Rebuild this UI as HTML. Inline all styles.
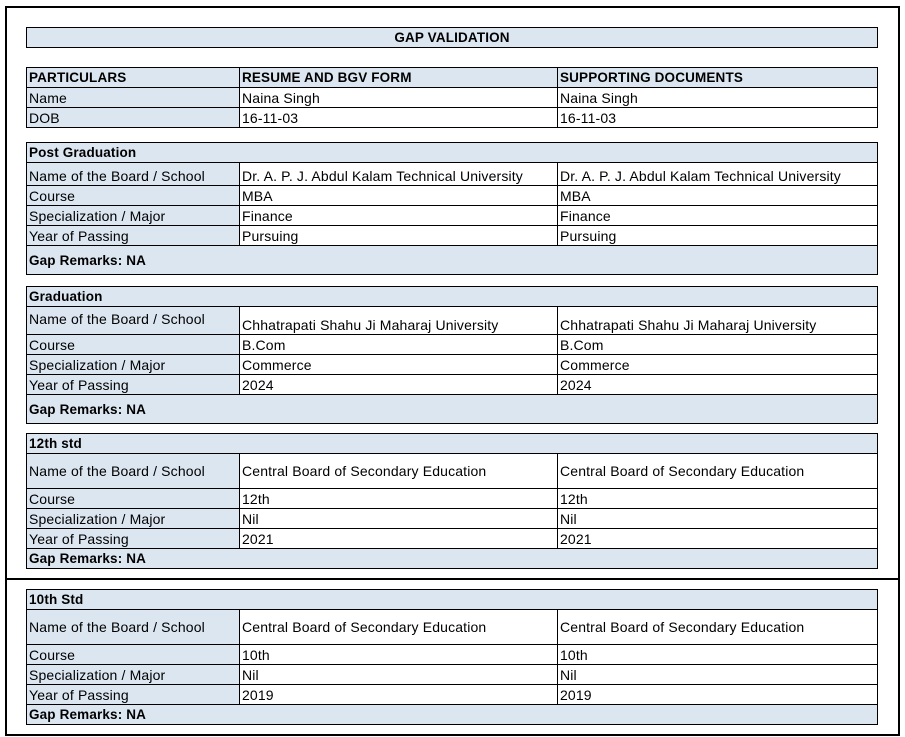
<!DOCTYPE html>
<html><head><style>
body{margin:0;width:905px;height:737px;background:#fff;position:relative;overflow:hidden;font-family:"Liberation Sans",sans-serif;font-size:14px;letter-spacing:0.15px;color:#000}
.b{position:absolute;border:2px solid #000;box-sizing:border-box}
.r{position:absolute;left:26px;width:852px;border:1px solid #000;box-sizing:border-box;display:flex;background:#dce6f1}
.r div{box-sizing:border-box;padding:0 2px;display:flex;align-items:center;white-space:nowrap;overflow:hidden}
.c1{width:212px;background:#dce6f1}
.c2{width:318px;border-left:1px solid #000;background:#fff}
.c3{flex:1;border-left:1px solid #000;background:#fff}
.h .c2,.h .c3{background:#dce6f1}
.bo{font-weight:bold;font-size:13.5px}
.low div{align-items:flex-end;padding-bottom:1px}
</style></head><body>
<div class="b" style="left:5px;top:6px;width:895px;height:574px"></div>
<div class="b" style="left:5px;top:578px;width:895px;height:158px"></div>

<div class="r bo" style="top:27px;height:21px;justify-content:center;align-items:center">GAP VALIDATION</div>

<div class="r h bo" style="top:67px;height:21px"><div class="c1">PARTICULARS</div><div class="c2">RESUME AND BGV FORM</div><div class="c3">SUPPORTING DOCUMENTS</div></div>
<div class="r" style="top:87px;height:21px"><div class="c1">Name</div><div class="c2">Naina Singh</div><div class="c3">Naina Singh</div></div>
<div class="r" style="top:107px;height:21px"><div class="c1">DOB</div><div class="c2">16-11-03</div><div class="c3">16-11-03</div></div>

<div class="r bo" style="top:142px;height:21px;padding-left:2px;align-items:center">Post Graduation</div>
<div class="r low" style="top:162px;height:24px"><div class="c1">Name of the Board / School</div><div class="c2">Dr. A. P. J. Abdul Kalam Technical University</div><div class="c3">Dr. A. P. J. Abdul Kalam Technical University</div></div>
<div class="r" style="top:185px;height:21px"><div class="c1">Course</div><div class="c2">MBA</div><div class="c3">MBA</div></div>
<div class="r" style="top:205px;height:21px"><div class="c1">Specialization / Major</div><div class="c2">Finance</div><div class="c3">Finance</div></div>
<div class="r" style="top:225px;height:21px"><div class="c1">Year of Passing</div><div class="c2">Pursuing</div><div class="c3">Pursuing</div></div>
<div class="r bo" style="top:245px;height:30px;padding-left:2px;align-items:center">Gap Remarks: NA</div>

<div class="r bo" style="top:286px;height:21px;padding-left:2px;align-items:center">Graduation</div>
<div class="r low" style="top:306px;height:29px"><div class="c1" style="align-items:flex-start;padding-top:4px">Name of the Board / School</div><div class="c2">Chhatrapati Shahu Ji Maharaj University</div><div class="c3">Chhatrapati Shahu Ji Maharaj University</div></div>
<div class="r" style="top:334px;height:21px"><div class="c1">Course</div><div class="c2">B.Com</div><div class="c3">B.Com</div></div>
<div class="r" style="top:354px;height:21px"><div class="c1">Specialization / Major</div><div class="c2">Commerce</div><div class="c3">Commerce</div></div>
<div class="r" style="top:374px;height:21px"><div class="c1">Year of Passing</div><div class="c2">2024</div><div class="c3">2024</div></div>
<div class="r bo" style="top:394px;height:30px;padding-left:2px;align-items:center">Gap Remarks: NA</div>

<div class="r bo" style="top:433px;height:21px;padding-left:2px;align-items:center">12th std</div>
<div class="r" style="top:453px;height:36px"><div class="c1">Name of the Board / School</div><div class="c2">Central Board of Secondary Education</div><div class="c3">Central Board of Secondary Education</div></div>
<div class="r" style="top:488px;height:21px"><div class="c1">Course</div><div class="c2">12th</div><div class="c3">12th</div></div>
<div class="r" style="top:508px;height:21px"><div class="c1">Specialization / Major</div><div class="c2">Nil</div><div class="c3">Nil</div></div>
<div class="r" style="top:528px;height:21px"><div class="c1">Year of Passing</div><div class="c2">2021</div><div class="c3">2021</div></div>
<div class="r bo" style="top:548px;height:21px;padding-left:2px;align-items:center">Gap Remarks: NA</div>

<div class="r bo" style="top:589px;height:21px;padding-left:2px;align-items:center">10th Std</div>
<div class="r" style="top:609px;height:36px"><div class="c1">Name of the Board / School</div><div class="c2">Central Board of Secondary Education</div><div class="c3">Central Board of Secondary Education</div></div>
<div class="r" style="top:644px;height:21px"><div class="c1">Course</div><div class="c2">10th</div><div class="c3">10th</div></div>
<div class="r" style="top:664px;height:21px"><div class="c1">Specialization / Major</div><div class="c2">Nil</div><div class="c3">Nil</div></div>
<div class="r" style="top:684px;height:21px"><div class="c1">Year of Passing</div><div class="c2">2019</div><div class="c3">2019</div></div>
<div class="r bo" style="top:704px;height:21px;padding-left:2px;align-items:center">Gap Remarks: NA</div>
</body></html>
